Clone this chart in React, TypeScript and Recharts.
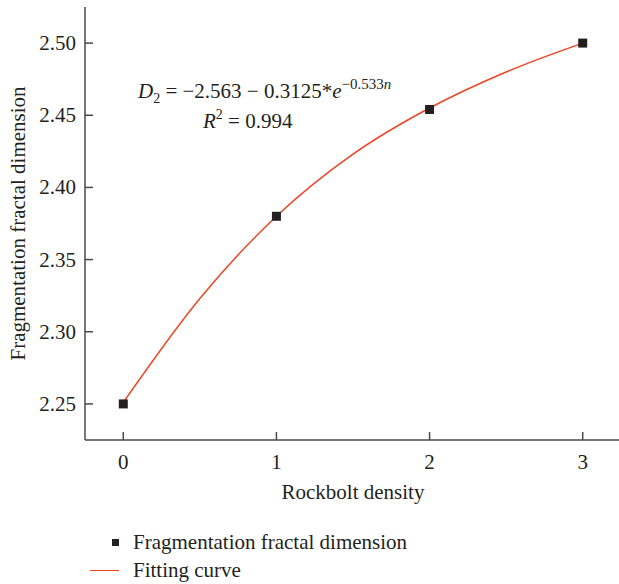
import React from "react";
import {ComposedChart, Legend, Line, Scatter, XAxis, YAxis} from "recharts";

// measured points
const densities = [0, 1, 2, 3];
const fractalDims = [2.25, 2.38, 2.454, 2.5];

// fitting curve
const fitN = [0, 0.5, 1, 1.5, 2, 2.5, 3];
const fitD = [2.251, 2.323, 2.38, 2.423, 2.455, 2.48, 2.5];

const xTicks = [0, 1, 2, 3];
const yTicks = [2.25, 2.3, 2.35, 2.4, 2.45, 2.5];

const pointData = densities.map((n, i) => ({n, d: fractalDims[i]}));
const fitData = fitN.map((n, i) => ({n, d: fitD[i]}));

const FONT = "'Liberation Serif', 'Times New Roman', serif";
const INK = "#231f20";
const AXIS = "#4a4a4a";
const RED = "#ee4424";

const XTick = ({x, y, payload}: any) => (
    <g>
      <line x1={x} x2={x} y1={y} y2={y - 8} stroke={AXIS} strokeWidth={1.5}/>
      <text x={x} y={y + 29} textAnchor="middle" fontFamily={FONT} fontSize={21} fill={INK}>
        {payload.value}
      </text>
    </g>
);

const YTick = ({x, y, payload}: any) => (
    <g>
      <line x1={x} x2={x + 8} y1={y} y2={y} stroke={AXIS} strokeWidth={1.5}/>
      <text x={x - 9} y={y + 7} textAnchor="end" fontFamily={FONT} fontSize={21} fill={INK}>
        {Number(payload.value).toFixed(2)}
      </text>
    </g>
);

const SquareDot = ({cx, cy}: any) => (
    <rect x={cx - 4.5} y={cy - 4.5} width={9} height={9} fill={INK}/>
);

const LegendBox = () => (
    <div style={{fontFamily: FONT, fontSize: 21, color: INK, height: 56, paddingLeft: 90}}>
      <div style={{display: "flex", alignItems: "center", height: 28}}>
        <span style={{display: "inline-block", width: 7, height: 7, background: INK, marginLeft: 22, marginRight: 14}}/>
        Fragmentation fractal dimension
      </div>
      <div style={{display: "flex", alignItems: "center", height: 28}}>
        <span style={{display: "inline-block", width: 29, borderTop: `1.5px solid ${RED}`, marginRight: 14}}/>
        Fitting curve
      </div>
    </div>
);

export default function App() {
  return (
      <div style={{position: "absolute", left: 0, top: 0, width: 619, height: 584, overflow: "hidden", background: "#fff"}}>
        <ComposedChart width={621} height={584} margin={{top: 7, right: 0, bottom: 0, left: 0}}>
          <XAxis
              type="number"
              dataKey="n"
              domain={[-0.25, 3.25]}
              ticks={xTicks}
              height={88}
              tickSize={0}
              tickMargin={0}
              tickLine={false}
              tick={<XTick/>}
              axisLine={{stroke: AXIS, strokeWidth: 1.5}}
              label={{value: "Rockbolt density", position: "insideBottom", offset: 29, fontFamily: FONT, fontSize: 21, fill: INK}}
          />
          <YAxis
              type="number"
              dataKey="d"
              domain={[2.225, 2.525]}
              ticks={yTicks}
              width={85}
              tickSize={0}
              tickMargin={0}
              tickLine={false}
              tick={<YTick/>}
              axisLine={{stroke: AXIS, strokeWidth: 1.5}}
              label={{value: "Fragmentation fractal dimension", angle: -90, position: "insideLeft", offset: 18,
                style: {textAnchor: "middle"}, fontFamily: FONT, fontSize: 21, fill: INK}}
          />
          <Line data={fitData} dataKey="d" type="monotone" stroke={RED} strokeWidth={1.5} dot={false}
                activeDot={false} isAnimationActive={false} legendType="line"/>
          <Scatter data={pointData} dataKey="d" fill={INK} shape={<SquareDot/>} isAnimationActive={false}/>
          <Legend verticalAlign="bottom" content={<LegendBox/>} wrapperStyle={{left: 0, width: 619}}/>
          <text x={138} y={98} fontFamily={FONT} fontSize={21} fill={INK}>
            <tspan fontStyle="italic">D</tspan>
            <tspan fontSize={14} dy={5}>2</tspan>
            <tspan dy={-5}> = −2.563 − 0.3125*</tspan>
            <tspan fontStyle="italic">e</tspan>
            <tspan fontSize={15} dy={-9}>−0.533</tspan>
            <tspan fontSize={15} fontStyle="italic">n</tspan>
          </text>
          <text x={203} y={128} fontFamily={FONT} fontSize={21} fill={INK}>
            <tspan fontStyle="italic">R</tspan>
            <tspan fontSize={14} dy={-9}>2</tspan>
            <tspan dy={9}> = 0.994</tspan>
          </text>
        </ComposedChart>
      </div>
  );
}
